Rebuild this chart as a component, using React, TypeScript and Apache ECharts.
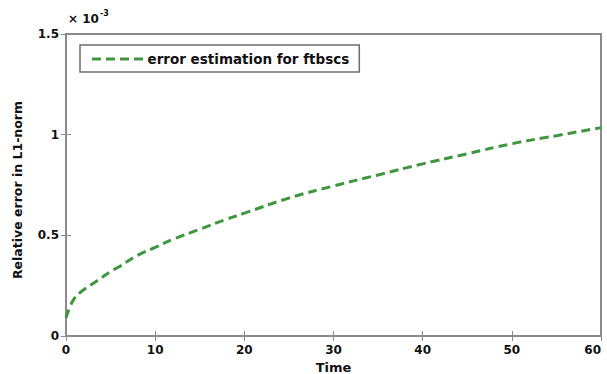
import React, { useEffect, useRef } from "react";
import * as echarts from "echarts";

// Time samples and relative L1 error (in units of 1e-3)
const timeValues = [0, 0.5, 1, 2, 3, 4, 5, 6, 8, 10, 12, 15, 18, 20, 25, 30, 35, 40, 45, 50, 55, 60];
const errorValues = [0.09, 0.15, 0.19, 0.23, 0.26, 0.29, 0.32, 0.345, 0.4, 0.44, 0.48, 0.53, 0.58, 0.61, 0.685, 0.745, 0.8, 0.855, 0.905, 0.955, 0.995, 1.035];
const seriesName = "error estimation for ftbscs";

const AXIS_COLOR = "#8a8a8a";
const LINE_COLOR = "#3f963f";
const FONT = "DejaVu Sans, Verdana, sans-serif";

// dashed stroke used as the legend key
const DASH_ICON = "path://M0,0h9v3h-9z M14,0h9v3h-9z M28,0h9v3h-9z M42,0h9v3h-9z";

export default function App() {
  const ref = useRef<HTMLDivElement>(null);

  useEffect(() => {
    if (!ref.current) return;
    const chart = echarts.init(ref.current, null, { renderer: "svg" });
    const data = timeValues.map((t, i) => [t, errorValues[i]]);

    const tickLabel = { color: "#111", fontFamily: FONT, fontWeight: "bold" as const, fontSize: 12 };
    const tick = { show: true, inside: true, length: 5, lineStyle: { color: AXIS_COLOR } };
    const line = { show: true, lineStyle: { color: AXIS_COLOR, width: 2 } };

    chart.setOption({
      animation: false,
      backgroundColor: "#fff",
      grid: {
        left: 66,
        right: 6,
        top: 34,
        bottom: 38,
        outerBoundsMode: "none",
        containLabel: false,
        show: true,
        borderColor: AXIS_COLOR,
        borderWidth: 2,
        backgroundColor: "#fff",
      },
      legend: {
        left: 80,
        top: 45,
        padding: [7, 10, 6, 12],
        itemWidth: 52,
        itemHeight: 3,
        itemGap: 4,
        borderColor: "#6e6e6e",
        borderWidth: 1.5,
        backgroundColor: "#fff",
        textStyle: { color: "#111", fontFamily: FONT, fontWeight: "bold", fontSize: 13.5, padding: [0, 0, 0, -1] },
        data: [{ name: seriesName, icon: DASH_ICON, itemStyle: { color: LINE_COLOR } }],
      },
      xAxis: [
        {
          type: "value",
          min: 0,
          max: 60,
          interval: 10,
          position: "bottom",
          name: "Time",
          nameLocation: "middle",
          nameGap: 23,
          nameTextStyle: { color: "#111", fontFamily: FONT, fontWeight: "bold", fontSize: 13 },
          axisLine: line,
          axisTick: tick,
          axisLabel: { ...tickLabel, margin: 8, alignMaxLabel: "right" },
          splitLine: { show: false },
        },
        {
          type: "value",
          min: 0,
          max: 60,
          interval: 10,
          position: "top",
          axisLine: line,
          axisTick: tick,
          axisLabel: { show: false },
          splitLine: { show: false },
        },
      ],
      yAxis: [
        {
          type: "value",
          min: 0,
          max: 1.5,
          interval: 0.5,
          position: "left",
          axisLine: line,
          axisTick: tick,
          axisLabel: { ...tickLabel, margin: 7 },
          splitLine: { show: false },
        },
        {
          type: "value",
          min: 0,
          max: 1.5,
          interval: 0.5,
          position: "right",
          axisLine: line,
          axisTick: tick,
          axisLabel: { show: false },
          splitLine: { show: false },
        },
      ],
      graphic: [
        {
          type: "text",
          left: 68,
          top: 9,
          style: {
            text: "{b|\u00d7 10}{s|-3}",
            rich: {
              b: { fontFamily: FONT, fontWeight: "bold", fontSize: 12, fill: "#111", padding: [6, 0, 0, 0] },
              s: { fontFamily: FONT, fontWeight: "bold", fontSize: 8, fill: "#111", padding: [0, 0, 6, 1] },
            },
          },
        },
        {
          type: "text",
          x: 17,
          y: 190,
          rotation: Math.PI / 2,
          style: {
            text: "Relative error in L1-norm",
            fontFamily: FONT,
            fontWeight: "bold",
            fontSize: 12.5,
            fill: "#111",
            align: "center",
            verticalAlign: "middle",
          },
        },
      ],
      series: [
        {
          name: seriesName,
          type: "line",
          xAxisIndex: 0,
          yAxisIndex: 0,
          data,
          smooth: true,
          showSymbol: false,
          symbol: "none",
          lineStyle: { color: LINE_COLOR, width: 3, type: [9, 5] },
          itemStyle: { color: LINE_COLOR },
        },
      ],
    });

    return () => chart.dispose();
  }, []);

  return (
    <div
      ref={ref}
      style={{ position: "fixed", left: 0, top: 0, width: 607, height: 374, background: "#fff" }}
    />
  );
}
